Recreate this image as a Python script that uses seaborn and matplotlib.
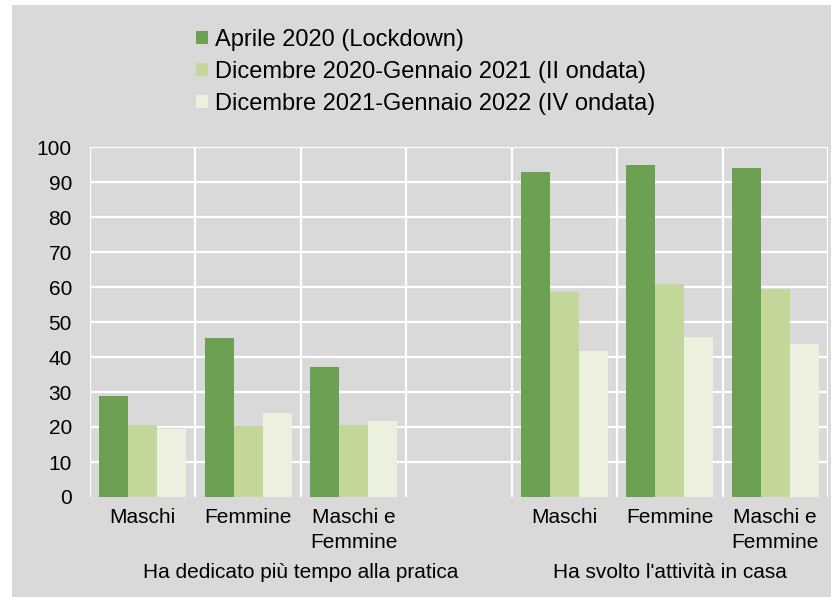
import matplotlib
matplotlib.use("Agg")
import matplotlib.pyplot as plt
import matplotlib.patches as mpatches
import seaborn as sns
import pandas as pd
import numpy as np

# ---- data ----
slots = ["M1", "F1", "MF1", "gap", "M2", "F2", "MF2"]
slot_labels = ["Maschi", "Femmine", "Maschi e\nFemmine", "", "Maschi", "Femmine", "Maschi e\nFemmine"]
data_slots = ["M1", "F1", "MF1", "M2", "F2", "MF2"]
series = ["Aprile 2020 (Lockdown)",
          "Dicembre 2020-Gennaio 2021 (II ondata)",
          "Dicembre 2021-Gennaio 2022 (IV ondata)"]
aprile_2020 = [29.0, 45.5, 37.2, 92.9, 94.9, 94.0]
dic2020_gen2021 = [20.6, 20.4, 20.7, 58.7, 61.0, 59.5]
dic2021_gen2022 = [19.4, 24.0, 21.8, 41.8, 45.8, 43.8]
group_labels = ["Ha dedicato più tempo alla pratica", "Ha svolto l'attività in casa"]
y_ticks = [0, 10, 20, 30, 40, 50, 60, 70, 80, 90, 100]

colors = ["#6ca153", "#c4d79b", "#ebf1de"]

rows = []
for s, vals in zip(series, [aprile_2020, dic2020_gen2021, dic2021_gen2022]):
    for c, v in zip(data_slots, vals):
        rows.append({"slot": c, "serie": s, "valore": v})
df = pd.DataFrame(rows)

W, H = 831, 597
fig = plt.figure(figsize=(W / 100, H / 100), dpi=100)
fig.patch.set_facecolor("white")
bg = mpatches.Rectangle((12 / W, 0), 1 - 12 / W, 1 - 5 / H,
                        transform=fig.transFigure, facecolor="#d9d9d9",
                        edgecolor="none", zorder=-10)
fig.add_artist(bg)

ax = fig.add_axes([90 / W, 1 - 497 / H, (828 - 90) / W, (497 - 147) / H])
ax.set_zorder(1)
ax.patch.set_alpha(0)

FONT = "Liberation Sans"
FS = 15
LFS = 17

sns.barplot(data=df, x="slot", y="valore", hue="serie", order=slots,
            hue_order=series, palette=colors, width=0.826, gap=0,
            saturation=1, ax=ax, legend=False, zorder=3, linewidth=0)

ax.set_xlim(-0.5, len(slots) - 0.5)
ax.set_ylim(0, 100)
for s in ax.spines.values():
    s.set_visible(False)

# gridlines
for yv in y_ticks[1:]:
    ax.axhline(yv, color="white", lw=1.6, zorder=1)
for i in range(len(slots) + 1):
    ax.axvline(i - 0.5, color="white", lw=1.6, zorder=1)

ax.set_yticks(y_ticks)
ax.set_yticklabels([str(v) for v in y_ticks], fontsize=FS, family=FONT, color="black")
ax.set_xticks(range(len(slots)))
ax.set_xticklabels(slot_labels, fontsize=FS, family=FONT, color="black", linespacing=1.36,
                   va="top")
ax.tick_params(axis="both", length=0)
ax.tick_params(axis="y", pad=13)
ax.tick_params(axis="x", pad=8)
ax.set_xlabel("")
ax.set_ylabel("")

# group labels
trans = ax.get_xaxis_transform()
ax.text(1.5, (497 - 573) / 350, group_labels[0], transform=trans, ha="center", va="center",
        fontsize=FS, family=FONT, color="black")
ax.text(5.0, (497 - 573) / 350, group_labels[1], transform=trans, ha="center", va="center",
        fontsize=FS, family=FONT, color="black")

# legend
handles = [mpatches.Patch(facecolor=c, edgecolor="none", label=s) for c, s in zip(colors, series)]
leg = fig.legend(handles=handles, loc="upper left", bbox_to_anchor=(196 / W, 1 - 29 / H),
                 frameon=False, prop={"family": FONT, "size": LFS},
                 handlelength=0.51, handleheight=0.51, handletextpad=0.3,
                 labelspacing=0.42, borderpad=0, borderaxespad=0)

fig.savefig("out.png", dpi=100, facecolor=fig.get_facecolor())
